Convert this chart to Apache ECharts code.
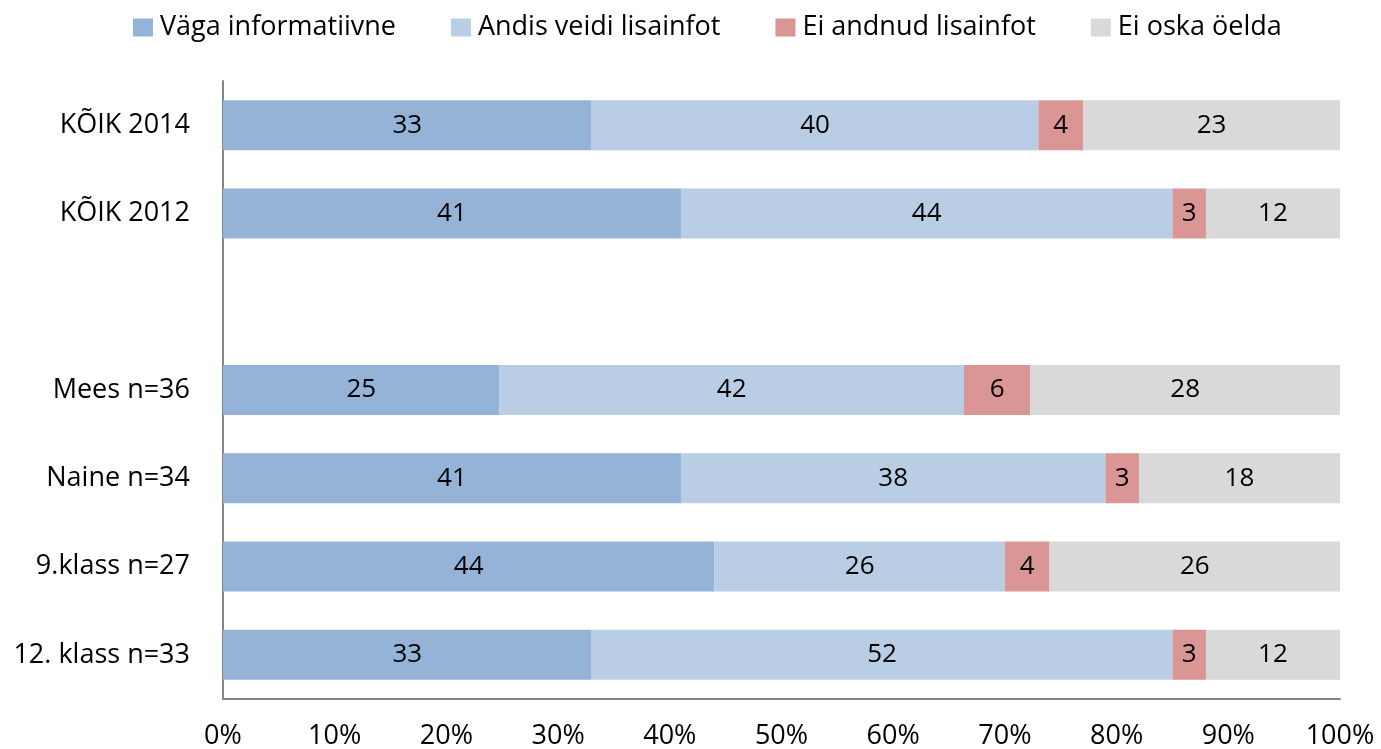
<!DOCTYPE html>
<html>
<head>
<meta charset="utf-8">
<script src="https://cdn.jsdelivr.net/npm/echarts@6/dist/echarts.min.js"></script>
<style>
  html, body { margin: 0; padding: 0; background: #fff; }
  #chart { width: 1381px; height: 749px; }
</style>
</head>
<body>
<div id="chart"></div>
<script>
// Rows, top to bottom (empty string is a spacer row)
const categories = ['KÕIK 2014', 'KÕIK 2012', '', 'Mees n=36', 'Naine n=34', '9.klass n=27', '12. klass n=33'];
const seriesNames = ['Väga informatiivne', 'Andis veidi lisainfot', 'Ei andnud lisainfot', 'Ei oska öelda'];
const vagaInformatiivne = [33, 41, null, 25, 41, 44, 33];
const andisVeidi      = [40, 44, null, 42, 38, 26, 52];
const eiAndnud        = [4, 3, null, 6, 3, 4, 3];
const eiOska          = [23, 12, null, 28, 18, 26, 12];
const xTickLabels = ['0%', '10%', '20%', '30%', '40%', '50%', '60%', '70%', '80%', '90%', '100%'];

const colors = ['#95B3D7', '#B9CDE5', '#D99694', '#D9D9D9'];
const FONT = '"Open Sans", sans-serif';
const allSeries = [vagaInformatiivne, andisVeidi, eiAndnud, eiOska];

// Each row is shown as shares of its own total (100% stacked)
const rowTotals = categories.map((_, i) =>
  allSeries.reduce((s, arr) => s + (arr[i] == null ? 0 : arr[i]), 0));

const series = allSeries.map((arr, k) => ({
  name: seriesNames[k],
  type: 'bar',
  stack: 'total',
  barWidth: 50,
  itemStyle: { color: colors[k] },
  label: {
    show: true,
    position: 'inside',
    color: '#000',
    fontFamily: FONT,
    fontSize: 26,
    formatter: p => p.data.raw
  },
  emphasis: { disabled: true },
  data: arr.map((v, i) => v == null ? '-' : { value: v / rowTotals[i] * 100, raw: v })
}));

const chart = echarts.init(document.getElementById('chart'), null, { renderer: 'canvas' });
chart.setOption({
  animation: false,
  color: colors,
  legend: {
    top: 9,
    left: 128,
    itemWidth: 20,
    itemHeight: 18,
    itemGap: 55,
    icon: 'rect',
    textStyle: { fontFamily: FONT, fontSize: 27, color: '#000', padding: [0, 0, 0, 2] },
    data: seriesNames
  },
  grid: { left: 223, right: 41, top: 81, bottom: 50, outerBoundsMode: 'none', containLabel: false },
  xAxis: {
    type: 'value',
    min: 0,
    max: 100,
    interval: 10,
    axisLine: { show: true, lineStyle: { color: '#868686', width: 2 } },
    axisTick: { show: false },
    splitLine: { show: false },
    axisLabel: {
      margin: 24,
      fontFamily: FONT,
      fontSize: 27,
      color: '#000',
      formatter: v => xTickLabels[Math.round(v / 10)]
    }
  },
  yAxis: {
    type: 'category',
    inverse: true,
    data: categories,
    axisLine: { show: true, lineStyle: { color: '#868686', width: 2 } },
    axisTick: { show: false },
    axisLabel: { margin: 33, fontFamily: FONT, fontSize: 27, color: '#000' }
  },
  series: series
});
</script>
</body>
</html>
